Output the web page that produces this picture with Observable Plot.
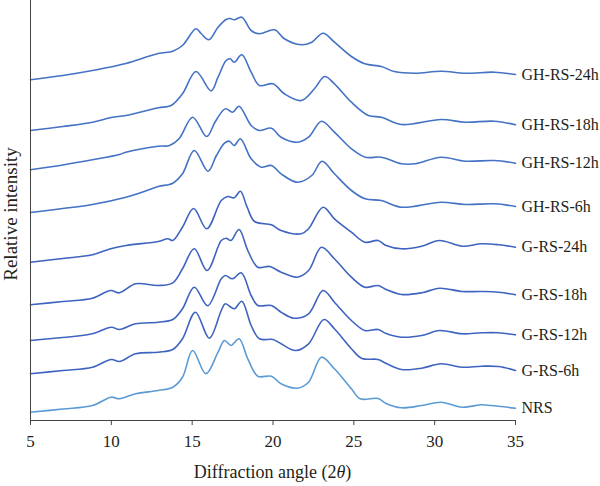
<!DOCTYPE html>
<html><head><meta charset="utf-8">
<script src="https://cdn.jsdelivr.net/npm/d3@7"></script>
<script src="https://cdn.jsdelivr.net/npm/@observablehq/plot@0.6"></script>
<style>body{margin:0;background:#fff} svg{display:block}</style>
</head><body><div id="chart"></div>
<script>
// Series labels (top to bottom) and x ticks
const seriesNames = ["GH-RS-24h","GH-RS-18h","GH-RS-12h","GH-RS-6h","G-RS-24h","G-RS-18h","G-RS-12h","G-RS-6h","NRS"];
const seriesColors = ["#4472C4","#4472C4","#4472C4","#4472C4","#3F64BF","#3F64BF","#3F64BF","#3F64BF","#5B9BD5"];
const xTicks = [5,10,15,20,25,30,35];

// [2θ, relative intensity (stacked, arbitrary units)]
const ghrs24 = [[5,340.7],[7,345],[8.83,350],[10.9,357],[12.9,367],[13.8,369.3],[14.4,375],[15.24,391.7],[15.55,387],[16.03,380.7],[16.6,393.3],[17.1,401],[17.35,402],[17.6,400.7],[18.07,403.3],[18.65,390],[19.16,386.7],[20.1,390.7],[20.7,381.7],[21.75,375.7],[22.4,378.3],[23.1,387.3],[23.8,378.3],[24.85,364],[25.68,356.7],[26.7,354],[27.5,349],[28.8,347.3],[30.4,349.3],[31.9,347.3],[33.7,348.3],[35,346]];
const ghrs18 = [[5,290],[7,294],[8.83,298.3],[10.0,303],[10.9,305],[12.9,312.7],[13.7,315],[14.4,326.7],[15.24,349],[16.17,329.5],[16.6,343.3],[17.1,360],[17.35,361.7],[17.6,358.3],[18.07,365.7],[18.65,348.3],[19.16,335],[20.0,336.7],[20.7,326.7],[21.75,320],[22.56,331.7],[23.2,344],[23.8,336.7],[24.85,318.3],[25.9,305],[26.7,303.3],[27.95,296],[30.4,301],[31.9,298.3],[33.7,299.3],[35,295.7]];
const ghrs12 = [[5,250.7],[7,255.5],[8.83,260.7],[10.5,266],[10.9,268.3],[12.9,274.3],[13.6,275],[14.2,282],[15.03,303.3],[15.9,284],[16.4,298],[16.9,310],[17.1,311.7],[17.5,308.3],[17.9,314.3],[18.65,295],[19.16,290],[19.9,292.3],[20.5,283.3],[21.5,278.3],[22.2,283.3],[23.0,299.3],[23.8,288.3],[24.85,271.7],[25.7,263.3],[26.7,263.3],[27.95,256.7],[28.8,256.7],[30.4,263.3],[31.9,259.3],[33.7,260],[35,257.3]];
const ghrs6 = [[5,208],[7,212],[8.83,216],[10.9,223.3],[11.9,228.3],[12.9,234],[13.8,237.3],[14.4,246.7],[15.13,270],[15.98,249.3],[16.5,265],[17.0,277.3],[17.3,279.3],[17.6,275],[17.98,281.7],[18.65,261.7],[19.27,253.3],[19.9,255],[20.5,246.7],[21.5,238.3],[22.4,245],[23.03,259.3],[23.8,246.7],[24.85,230],[25.7,221.7],[26.7,220],[27.95,213.3],[30.4,218.3],[31.9,216],[33.7,216.7],[35,214]];
const grs24 = [[5,158.3],[7,162],[8.83,165.7],[9.96,171.7],[10.9,175],[12.9,179],[13.5,181.7],[13.8,180],[14.4,193.3],[15.09,212],[15.9,191.7],[16.8,220],[17.2,224],[17.6,222.7],[17.98,229.3],[18.4,213.3],[18.86,199],[19.9,195.7],[20.5,190],[21.75,186.7],[22.2,191.7],[23.1,213.3],[23.8,201.7],[24.85,188.3],[25.68,178.3],[26.5,180],[27.0,175],[27.95,171.7],[29.2,174.3],[30.3,180],[31.7,174.3],[32.9,176.7],[33.95,175.7],[35,173.3]];
const grs18 = [[5,115.7],[7,119],[8.83,122.3],[9.96,130],[10.5,127.7],[11.5,136.7],[12.9,135],[13.8,137.7],[14.4,151.7],[15.13,171.7],[15.92,150],[16.8,180],[17.1,182.3],[17.4,180],[17.9,191],[18.44,170],[19.06,153.3],[19.8,154],[20.5,148.3],[21.5,143.3],[22.2,150],[23.0,173.3],[23.8,161.7],[24.85,143.3],[25.68,133.3],[26.5,135],[27.0,131],[27.95,126],[29.2,127.7],[30.3,132.3],[31.7,129],[32.9,129],[33.95,128.3],[35,125.7]];
const grs12 = [[5,80],[7,83],[8.83,86.7],[10.0,93.3],[10.5,91],[11.5,96.7],[12.9,98.3],[13.8,101],[14.4,111.7],[15.13,133.3],[15.96,114.7],[16.8,141.7],[17.05,145],[17.5,141.7],[18.03,147.7],[18.65,125],[19.06,115],[19.9,115],[20.5,108.3],[21.3,102.3],[22.2,106.7],[23.1,130],[23.8,118.3],[24.85,100],[25.68,90],[26.5,91],[27.0,87],[27.95,83.3],[29.2,85],[30.3,90],[31.7,86.7],[32.9,87.7],[33.95,87.7],[35,85.7]];
const grs6 = [[5,46.7],[7,50],[8.83,53.3],[10.0,61],[10.5,59],[11.5,66.7],[12.9,68.3],[13.8,71],[14.4,81.7],[15.2,108.3],[16.06,82.3],[16.8,110],[17.05,116.7],[17.6,111.7],[18.07,119.3],[18.65,95],[19.16,81.7],[20.0,81],[20.5,76.7],[21.4,70],[22.2,76.7],[23.15,101],[23.8,91.7],[24.85,71.7],[25.5,62],[26.5,61],[27.0,57],[27.95,51],[29.2,52.3],[30.4,56.7],[31.7,53.3],[32.9,54.3],[33.95,54],[35,50]];
const nrs = [[5,8.3],[7,11.5],[8.83,15],[10.0,23.3],[10.5,21.7],[11.5,26.7],[12.9,30],[13.8,33.3],[14.4,43.3],[15.03,70],[15.85,46.7],[16.6,68.3],[17.0,80],[17.4,75],[17.9,81.7],[18.44,61.7],[19.06,44.3],[19.9,44.3],[20.5,36.7],[21.5,32.3],[22.2,38.3],[23.0,63.3],[23.8,51.7],[24.85,31.7],[25.4,21.7],[26.5,22],[27.0,17],[27.95,12.7],[29.2,15],[30.4,18.3],[31.7,13.3],[32.9,15.7],[33.5,15],[35,12.3]];

const seriesList = [ghrs24, ghrs18, ghrs12, ghrs6, grs24, grs18, grs12, grs6, nrs];

const rows = [];
seriesList.forEach((s, i) => s.forEach(([a, v]) => rows.push({series: seriesNames[i], angle: a, intensity: v})));
const ends = seriesList.map((s, i) => ({series: seriesNames[i], angle: s[s.length-1][0], intensity: s[s.length-1][1]}));

const font = "'Liberation Serif', 'DejaVu Serif', serif";
const chart = Plot.plot({
  width: 600, height: 486,
  marginTop: 0, marginLeft: 30, marginRight: 85, marginBottom: 66,
  style: {fontFamily: font, background: "#fff", color: "#231f20", overflow: "visible"},
  x: {domain: [5, 35]},
  y: {domain: [0, 420], axis: null},
  color: {domain: seriesNames, range: seriesColors},
  marks: [
    Plot.line(rows, {x: "angle", y: "intensity", z: "series", stroke: "series", strokeWidth: 1.6, curve: "catmull-rom"}),
    Plot.ruleX([5], {stroke: "#444"}),
    Plot.ruleY([0], {stroke: "#444"}),
    Plot.axisX({ticks: xTicks, tickSize: 5, tickPadding: 9, fontSize: 17, label: null, stroke: "#444"}),
    Plot.text(ends, {x: "angle", y: "intensity", text: "series", textAnchor: "start", dx: 6, fontSize: 16, fill: "#231f20"})
  ]
});

const svg = d3.select(chart);
const xs = chart.scale("x");
const xt = svg.append("text")
  .attr("x", xs.apply(20)).attr("y", 478)
  .attr("text-anchor", "middle").attr("font-size", 18).attr("fill", "#231f20").attr("font-family", font);
xt.append("tspan").text("Diffraction angle (2");
xt.append("tspan").attr("font-style", "italic").text("θ");
xt.append("tspan").text(")");

svg.append("text")
  .attr("transform", "translate(17,214) rotate(-90)")
  .attr("text-anchor", "middle").attr("font-size", 19).attr("fill", "#231f20").attr("font-family", font)
  .text("Relative intensity");

document.getElementById("chart").appendChild(chart);
</script>
</body></html>
